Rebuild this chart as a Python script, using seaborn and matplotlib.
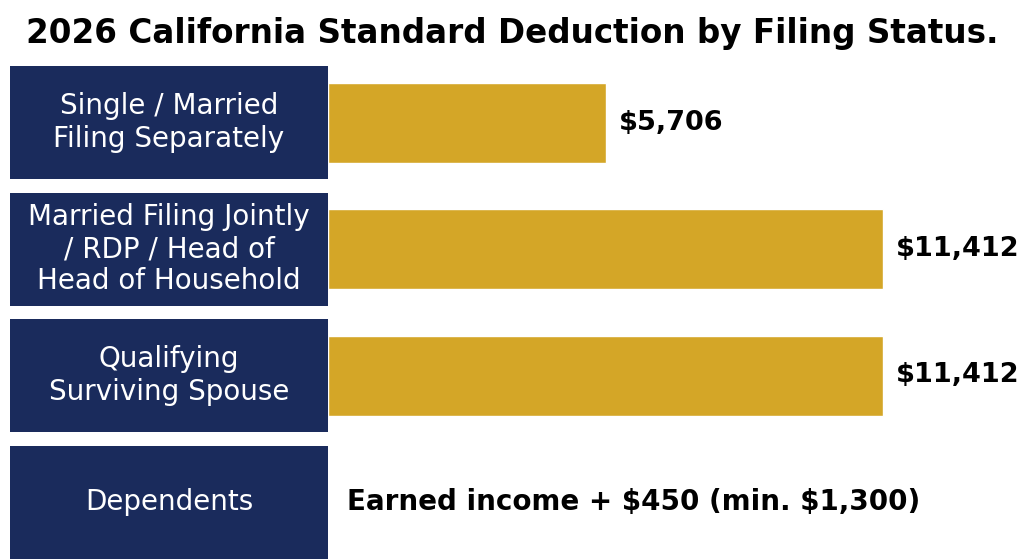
import matplotlib
matplotlib.use("Agg")
import matplotlib.pyplot as plt
import matplotlib.transforms as mtransforms
from matplotlib.patches import Rectangle
import seaborn as sns
import pandas as pd

categories = ["Single / Married\nFiling Separately",
              "Married Filing Jointly\n/ RDP / Head of\nHead of Household",
              "Qualifying\nSurviving Spouse",
              "Dependents"]
bar_categories = categories[:3]
bar_values = [5706, 11412, 11412]
value_labels = ["\\$5,706", "\\$11,412", "\\$11,412"]
dependents_text = "Earned income + \\$450 (min. \\$1,300)"
title = "2026 California Standard Deduction by Filing Status."

NAVY = "#1a2b5c"
GOLD = "#d4a627"

sns.set_theme(style="white")
plt.rcParams['font.family'] = ['DejaVu Sans']

W, H = 1024, 559
fig = plt.figure(figsize=(W / 100, H / 100), dpi=100)
fig.patch.set_facecolor("white")

row_h = 126.5
top_px = 122.5 - row_h / 2
bottom_px = 559
ax_left, ax_right = 328, 1014
ax = fig.add_axes([ax_left / W, 1 - bottom_px / H, (ax_right - ax_left) / W, (bottom_px - top_px) / H])

df = pd.DataFrame({"cat": bar_categories, "val": bar_values})
sns.barplot(data=df, x="val", y="cat", order=categories, color=GOLD, width=80 / row_h,
            saturation=1, ax=ax, orient="h")

xmax = 11412 * (ax_right - ax_left) / (883 - ax_left)
ax.set_xlim(0, xmax)
ax.set_ylim((bottom_px - 122.5) / row_h, -0.5)
ax.axis("off")

# value labels
for i, (v, lab) in enumerate(zip(bar_values, value_labels)):
    ax.text(v + xmax * 13 / (ax_right - ax_left), i, lab, ha="left", va="center",
            fontsize=19.5, fontweight="bold", color="black")

ax.text(xmax * 19 / (ax_right - ax_left), 3, dependents_text, ha="left", va="center",
        fontsize=20, fontweight="bold", color="black")

# navy category boxes
trans = mtransforms.blended_transform_factory(fig.transFigure, ax.transData)
box_h = 113 / row_h
for i, cat in enumerate(categories):
    r = Rectangle((10 / W, i - box_h / 2), (328 - 10) / W, box_h, transform=trans,
                  facecolor=NAVY, edgecolor="none", clip_on=False)
    ax.add_artist(r)
    ax.text(169 / W, i, cat, transform=trans, ha="center", va="center",
            color="white", fontsize=20, linespacing=1.2, clip_on=False)

fig.text(0.5, 1 - 33 / H, title, ha="center", va="center", fontsize=23.5,
         fontweight="bold", color="black")

fig.savefig("out.png", dpi=100, facecolor="white")
